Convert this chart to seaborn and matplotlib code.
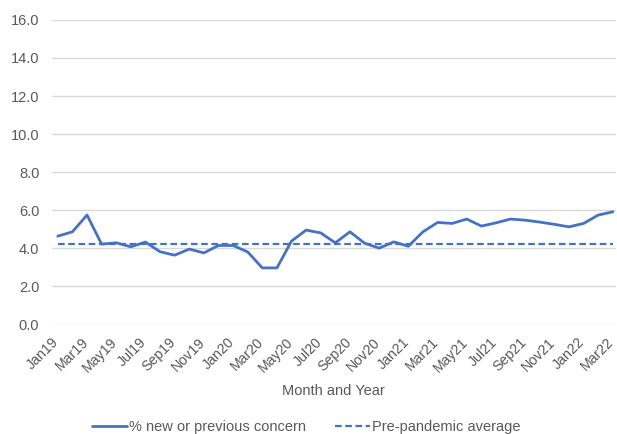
import seaborn as sns
import matplotlib.pyplot as plt
import matplotlib.transforms as mtransforms
import pandas as pd

# Monthly data, Jan 2019 - Mar 2022
months = ["Jan19", "Feb19", "Mar19", "Apr19", "May19", "Jun19", "Jul19", "Aug19",
          "Sep19", "Oct19", "Nov19", "Dec19", "Jan20", "Feb20", "Mar20", "Apr20",
          "May20", "Jun20", "Jul20", "Aug20", "Sep20", "Oct20", "Nov20", "Dec20",
          "Jan21", "Feb21", "Mar21", "Apr21", "May21", "Jun21", "Jul21", "Aug21",
          "Sep21", "Oct21", "Nov21", "Dec21", "Jan22", "Feb22", "Mar22"]
concern = [4.63, 4.86, 5.74, 4.21, 4.28, 4.07, 4.32, 3.81,
           3.63, 3.95, 3.75, 4.14, 4.14, 3.8, 2.96, 2.96,
           4.37, 4.95, 4.8, 4.28, 4.86, 4.26, 4.0, 4.33,
           4.1, 4.86, 5.35, 5.3, 5.53, 5.16, 5.33, 5.53,
           5.47, 5.37, 5.25, 5.12, 5.3, 5.74, 5.91]
pre_pandemic_avg = 4.21

label_line = "% new or previous concern"
label_avg = "Pre-pandemic average"

df = pd.DataFrame({"month": months, "concern": concern,
                   "avg": [pre_pandemic_avg] * len(months)})
df["idx"] = range(len(months))

sns.set_style("white")
plt.rcParams["font.family"] = ["Liberation Sans", "DejaVu Sans"]
grey = "#595959"
blue = "#4472C4"

fig = plt.figure(figsize=(6.17, 4.34), dpi=100)
ax = fig.add_axes([0.084, 0.253, 0.914, 0.701])

sns.lineplot(data=df, x="idx", y="concern", ax=ax, color=blue, linewidth=2.0,
             label=label_line, legend=False)
sns.lineplot(data=df, x="idx", y="avg", ax=ax, color=blue, linewidth=1.6,
             linestyle=(0, (3, 1.6)), label=label_avg, legend=False)

ax.set_ylim(0, 16)
ax.set_yticks(range(0, 17, 2))
ax.set_yticklabels([f"{v:.1f}" for v in range(0, 17, 2)])
ax.set_xlim(-0.41, 38.2)
ax.set_xticks(df["idx"][::2])
ax.set_xticklabels(months[::2], rotation=45, ha="right", rotation_mode="anchor")
ax.grid(axis="y", color="#d9d9d9", linewidth=1)
ax.set_axisbelow(True)
for s in ax.spines.values():
    s.set_visible(False)
ax.tick_params(axis="both", length=0, colors=grey, labelsize=10.5)
ax.tick_params(axis="y", pad=9)
ax.tick_params(axis="x", pad=8, labelsize=10.2)
# nudge rotated labels left so the last one stays inside the figure
shift = mtransforms.ScaledTranslation(-6 / 100, 0, fig.dpi_scale_trans)
for t in ax.get_xticklabels():
    t.set_transform(t.get_transform() + shift)
ax.set_ylabel("")
ax.set_xlabel("Month and Year", color=grey, fontsize=10.5, labelpad=6)

handles, labels = ax.get_legend_handles_labels()
fig.legend(handles, labels, loc="center", bbox_to_anchor=(0.496, 0.017), ncol=2,
           frameon=False, fontsize=10.5, labelcolor=grey, handlelength=2.4,
           handletextpad=0.15, columnspacing=2.0)

fig.savefig("out.png", dpi=100)
